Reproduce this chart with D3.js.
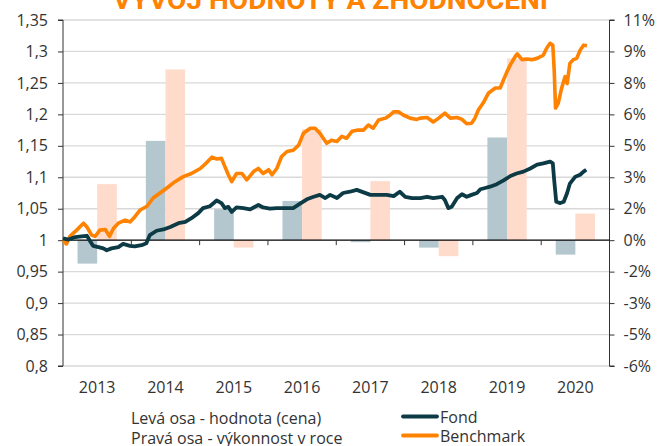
<!DOCTYPE html>
<html><head><meta charset="utf-8">
<script src="https://cdn.jsdelivr.net/npm/d3@7"></script>
<style>body{margin:0;background:#fff}svg{display:block}</style>
</head><body>
<svg id="c" width="661" height="446"></svg>
<script>
const title = "VÝVOJ HODNOTY A ZHODNOCENÍ";
const years = ["2013","2014","2015","2016","2017","2018","2019","2020"];
const fundYearly = [-1.17, 4.96, 1.55, 1.96, -0.10, -0.37, 5.13, -0.72];
const benchYearly = [2.80, 8.53, -0.37, 5.55, 2.95, -0.80, 9.08, 1.33];
const leftTicks = [0.8,0.85,0.9,0.95,1,1.05,1.1,1.15,1.2,1.25,1.3,1.35];
const leftTickLabels = ["0,8","0,85","0,9","0,95","1","1,05","1,1","1,15","1,2","1,25","1,3","1,35"];
const rightTickLabels = ["-6%","-5%","-3%","-2%","0%","2%","3%","5%","6%","8%","9%","11%"];
const benchDates = [2013.00,2013.05,2013.10,2013.20,2013.30,2013.35,2013.42,2013.47,2013.54,2013.62,2013.68,2013.74,2013.81,2013.91,2013.98,2014.05,2014.13,2014.23,2014.32,2014.42,2014.52,2014.64,2014.76,2014.88,2015.01,2015.10,2015.18,2015.25,2015.32,2015.37,2015.42,2015.47,2015.54,2015.62,2015.69,2015.79,2015.86,2015.93,2016.01,2016.06,2016.13,2016.20,2016.28,2016.37,2016.45,2016.52,2016.62,2016.69,2016.76,2016.86,2016.93,2017.01,2017.08,2017.15,2017.23,2017.32,2017.40,2017.47,2017.54,2017.62,2017.72,2017.79,2017.84,2017.91,2017.98,2018.08,2018.18,2018.23,2018.33,2018.42,2018.50,2018.59,2018.67,2018.77,2018.84,2018.91,2018.98,2019.03,2019.08,2019.15,2019.23,2019.33,2019.40,2019.45,2019.50,2019.55,2019.62,2019.65,2019.72,2019.79,2019.86,2019.94,2020.03,2020.08,2020.13,2020.17,2020.19,2020.21,2020.25,2020.30,2020.35,2020.38,2020.42,2020.47,2020.52,2020.57,2020.62,2020.67];
const benchValues = [1.000,0.994,1.006,1.016,1.027,1.021,1.008,1.006,1.016,1.017,1.006,1.019,1.027,1.032,1.029,1.037,1.048,1.054,1.067,1.075,1.083,1.093,1.101,1.106,1.114,1.123,1.132,1.129,1.130,1.117,1.104,1.093,1.106,1.106,1.096,1.109,1.114,1.106,1.112,1.104,1.114,1.133,1.141,1.143,1.151,1.170,1.178,1.178,1.170,1.154,1.159,1.157,1.165,1.162,1.173,1.175,1.175,1.183,1.178,1.191,1.194,1.199,1.204,1.204,1.199,1.194,1.192,1.194,1.195,1.188,1.194,1.202,1.194,1.195,1.192,1.185,1.186,1.194,1.207,1.218,1.234,1.242,1.242,1.255,1.268,1.279,1.292,1.296,1.287,1.288,1.287,1.289,1.294,1.305,1.313,1.310,1.271,1.210,1.218,1.242,1.260,1.249,1.281,1.287,1.289,1.302,1.310,1.309];
const fundDates = [2013.00,2013.08,2013.18,2013.27,2013.35,2013.40,2013.44,2013.52,2013.59,2013.64,2013.71,2013.81,2013.88,2013.98,2014.05,2014.15,2014.22,2014.27,2014.37,2014.47,2014.57,2014.69,2014.79,2014.88,2014.98,2015.05,2015.15,2015.25,2015.32,2015.37,2015.42,2015.47,2015.54,2015.64,2015.74,2015.86,2015.93,2016.03,2016.13,2016.22,2016.37,2016.47,2016.57,2016.67,2016.76,2016.84,2016.91,2017.01,2017.10,2017.20,2017.30,2017.40,2017.50,2017.59,2017.74,2017.84,2017.93,2018.01,2018.11,2018.23,2018.33,2018.42,2018.55,2018.59,2018.64,2018.69,2018.77,2018.84,2018.91,2018.98,2019.06,2019.11,2019.18,2019.25,2019.35,2019.45,2019.55,2019.64,2019.74,2019.84,2019.94,2020.03,2020.13,2020.17,2020.19,2020.22,2020.28,2020.33,2020.38,2020.42,2020.50,2020.57,2020.62,2020.66];
const fundValues = [1.003,1.001,1.005,1.006,1.007,0.998,0.991,0.989,0.987,0.984,0.987,0.989,0.994,0.991,0.990,0.992,0.995,1.008,1.015,1.017,1.021,1.027,1.029,1.035,1.043,1.051,1.054,1.063,1.059,1.051,1.053,1.045,1.052,1.051,1.049,1.056,1.052,1.050,1.051,1.051,1.051,1.058,1.065,1.069,1.072,1.067,1.072,1.067,1.075,1.077,1.080,1.076,1.072,1.072,1.072,1.070,1.077,1.069,1.067,1.067,1.069,1.067,1.069,1.064,1.051,1.053,1.067,1.073,1.069,1.072,1.075,1.081,1.083,1.085,1.089,1.095,1.102,1.106,1.109,1.114,1.120,1.122,1.125,1.122,1.096,1.061,1.059,1.061,1.075,1.090,1.101,1.104,1.109,1.112];

const svg = d3.select("#c");
const L = 63, R = 609.5, T = 20, B = 366;
const font = "'Open Sans', 'Noto Sans', sans-serif";
const fs = 16;
const orange = "#ff8200", teal = "#0c3a45", txt = "#333";

const x = d3.scaleBand().domain(years).range([L, R]).padding(0);
const xs = d3.scaleBand().domain(["fund","bench"]).range([0, x.bandwidth()]).paddingInner(0).paddingOuter(0.74);
const xt = d3.scaleLinear().domain([2013, 2021]).range([L, R]);
const yL = d3.scaleLinear().domain([0.8, 1.35]).range([B, T]);
const rStep = 11/7;
const yR = d3.scaleLinear().domain([-4*rStep, 11]).range([B, T]);
const rightTicks = d3.range(-4, 8).map(k => k*rStep);

// title (cut off at the top, as in the reference)
svg.append("text").attr("x", 330.5).attr("y", 9).attr("text-anchor","middle")
  .attr("font-family", "'Liberation Sans Narrow','Roboto','Arial Narrow',sans-serif").attr("font-weight","bold")
  .attr("font-size", 26).attr("fill", orange).attr("textLength", 435).attr("lengthAdjust","spacingAndGlyphs").text(title);

// gridlines
svg.append("g").selectAll("line").data(leftTicks.filter(d => d !== 1)).join("line")
  .attr("x1", L).attr("x2", R).attr("y1", d => yL(d)).attr("y2", d => yL(d))
  .attr("stroke", "#d9d9d9").attr("stroke-width", 1.3);

// bars
const bars = svg.append("g");
years.forEach((yr, i) => {
  [["fund", fundYearly[i], "#b4c6ce"], ["bench", benchYearly[i], "#ffdbcc"]].forEach(([k, v, c]) => {
    bars.append("rect").attr("x", x(yr) + xs(k)).attr("width", xs.bandwidth())
      .attr("y", Math.min(yR(v), yR(0))).attr("height", Math.abs(yR(v) - yR(0))).attr("fill", c);
  });
});

// left axis
const axL = d3.axisLeft(yL).tickValues(leftTicks).tickSize(5).tickPadding(10)
  .tickFormat((d, i) => leftTickLabels[i]);
const gL = svg.append("g").attr("transform", `translate(${L},0)`).call(axL);
gL.select(".domain").attr("stroke", txt).attr("d", `M-5,${T}H0V${B}H-5`);
gL.selectAll(".tick line").attr("stroke", txt);
gL.selectAll("text").attr("font-family", font).attr("font-size", fs).attr("fill", txt);

// right axis
const axR = d3.axisRight(yR).tickValues(rightTicks).tickSize(5).tickPadding(9)
  .tickFormat((d, i) => rightTickLabels[i]);
const gR = svg.append("g").attr("transform", `translate(${R},0)`).call(axR);
gR.select(".domain").attr("stroke", txt).attr("d", `M5,${T}H0V${B}H5`);
gR.selectAll(".tick line").attr("stroke", txt);
gR.selectAll("text").attr("font-family", font).attr("font-size", fs).attr("fill", txt);

// zero axis with year ticks
const gX = svg.append("g").attr("transform", `translate(0,${yL(1)})`);
gX.append("line").attr("x1", L).attr("x2", R).attr("stroke", "#000").attr("stroke-width", 1.2);
gX.selectAll(".yt").data(years).join("line").attr("class","yt")
  .attr("x1", d => x(d) + x.bandwidth()).attr("x2", d => x(d) + x.bandwidth())
  .attr("y1", 0).attr("y2", 5).attr("stroke", txt);

// year labels
svg.append("g").selectAll("text").data(years).join("text")
  .attr("x", d => x(d) + x.bandwidth()/2).attr("y", 393).attr("text-anchor", "middle")
  .attr("font-family", font).attr("font-size", fs).attr("fill", txt).text(d => d);

// lines
const line = d3.line().x(d => xt(d[0])).y(d => yL(d[1])).curve(d3.curveLinear);
svg.append("path").datum(benchDates.map((d, i) => [d, benchValues[i]])).attr("d", line)
  .attr("fill", "none").attr("stroke", orange).attr("stroke-width", 3.6).attr("stroke-linejoin","round");
svg.append("path").datum(fundDates.map((d, i) => [d, fundValues[i]])).attr("d", line)
  .attr("fill", "none").attr("stroke", teal).attr("stroke-width", 3.8).attr("stroke-linejoin","round");

// legend
const lg = svg.append("g").attr("font-family", font).attr("font-size", fs).attr("fill", txt);
lg.append("text").attr("x", 131).attr("y", 424).text("Levá osa - hodnota (cena)");
lg.append("text").attr("x", 131).attr("y", 444).text("Pravá osa - výkonnost v roce");
[["Fond", teal, 416.5], ["Benchmark", orange, 435.5]].forEach(([t, c, yy]) => {
  lg.append("line").attr("x1", 403).attr("x2", 437).attr("y1", yy).attr("y2", yy)
    .attr("stroke", c).attr("stroke-width", 3.8).attr("stroke-linecap", "round");
  lg.append("text").attr("x", 440).attr("y", yy + 6).text(t);
});
</script>
</body></html>
